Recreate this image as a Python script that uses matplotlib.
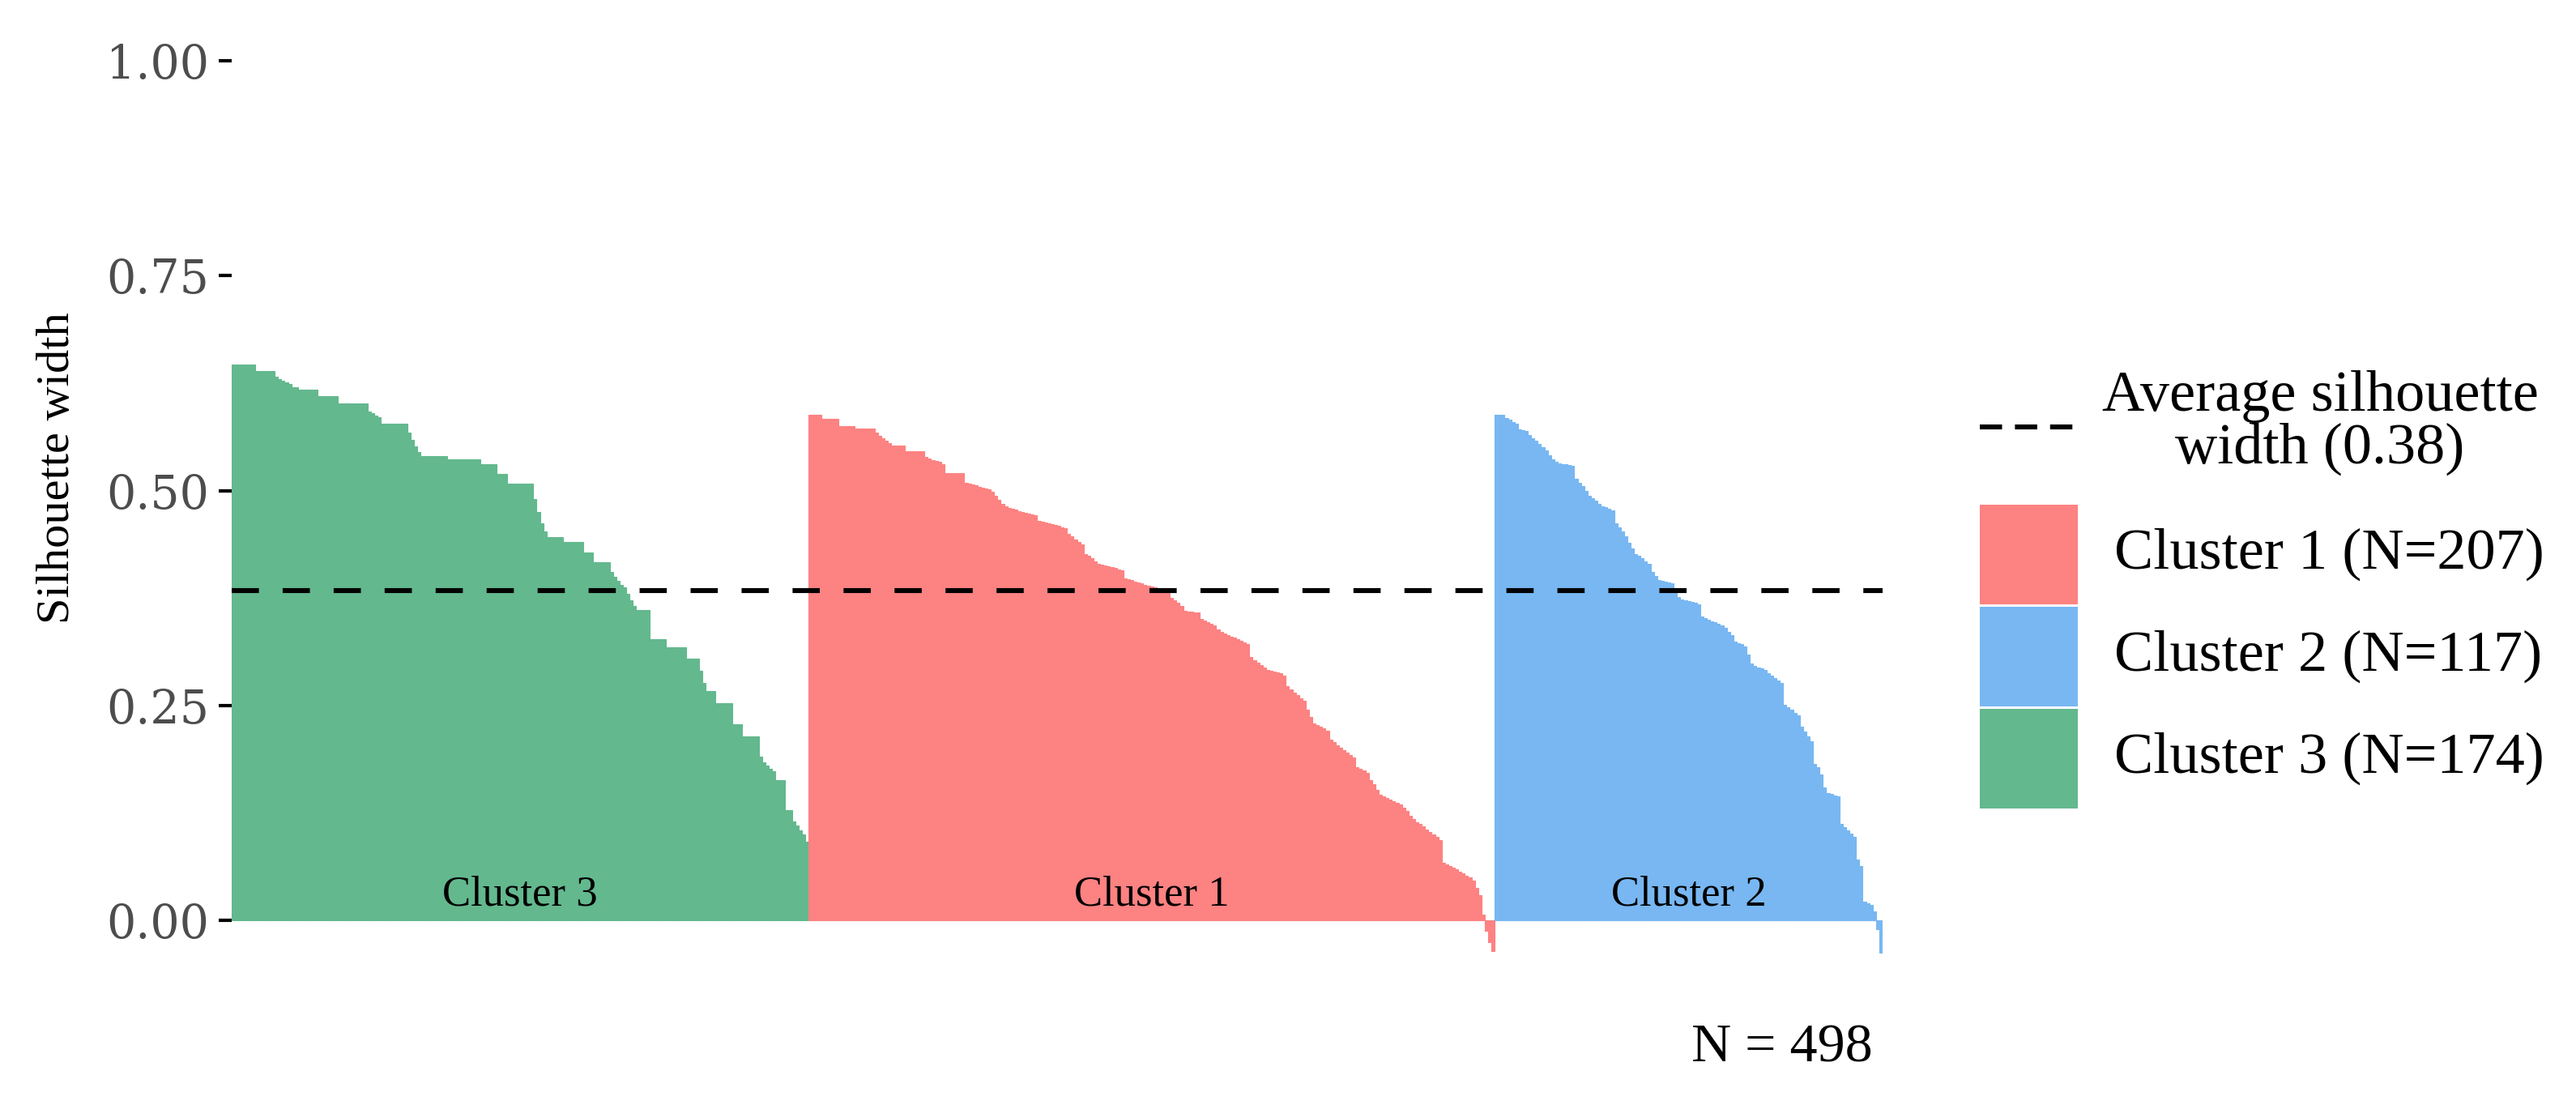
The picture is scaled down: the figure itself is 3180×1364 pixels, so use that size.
import numpy as np
import matplotlib
matplotlib.use("Agg")
import matplotlib.pyplot as plt
from matplotlib.patches import Rectangle

plt.rcParams['font.family'] = ['Liberation Serif', 'DejaVu Serif']

# ---------------- data ----------------
cluster_order = ["Cluster 3", "Cluster 1", "Cluster 2"]
legend_clusters = ["Cluster 1", "Cluster 2", "Cluster 3"]
cluster_sizes = [207, 117, 174]          # for legend_clusters
cluster_colors = {"Cluster 1": "#FD8282", "Cluster 2": "#78B7F2", "Cluster 3": "#63B88E"}
avg_sil = 0.384
avg_label = "0.38"
n_total = 498

# Cluster 3: step levels and number of observations at each level
c3_levels = [0.647, 0.639, 0.632, 0.630, 0.628, 0.626, 0.624, 0.620, 0.617, 0.610,
             0.601, 0.592, 0.590, 0.587, 0.585, 0.578, 0.567, 0.559, 0.551, 0.545,
             0.540, 0.536, 0.531, 0.519, 0.508, 0.490, 0.475, 0.462, 0.452, 0.446,
             0.440, 0.428, 0.417, 0.405, 0.400, 0.395, 0.390, 0.387, 0.380, 0.372,
             0.366, 0.361, 0.327, 0.318, 0.304, 0.290, 0.276, 0.267, 0.253, 0.228,
             0.214, 0.190, 0.184, 0.180, 0.176, 0.173, 0.163, 0.128, 0.115, 0.110,
             0.105, 0.100, 0.091]
c3_counts = [7, 6, 1, 1, 1, 1, 1, 2, 6, 6,
             9, 1, 1, 1, 1, 8, 1, 1, 1, 1,
             8, 10, 5, 3, 8, 1, 1, 1, 1, 5,
             6, 3, 5, 1, 1, 1, 1, 1, 1, 1,
             1, 4, 5, 6, 4, 1, 1, 3, 5, 3,
             5, 1, 1, 1, 1, 1, 3, 2, 1, 1,
             1, 1, 1]

# Cluster 1: step levels and counts
c1_levels = [0.588, 0.583, 0.575, 0.572, 0.567, 0.564, 0.561, 0.558, 0.555, 0.552,
             0.546, 0.539, 0.537, 0.535, 0.534, 0.533, 0.531, 0.520, 0.509, 0.508,
             0.507, 0.506, 0.504, 0.503, 0.502, 0.501, 0.499, 0.494, 0.489, 0.484,
             0.482, 0.480, 0.479, 0.478, 0.476, 0.475, 0.474, 0.473, 0.472, 0.471,
             0.465, 0.464, 0.463, 0.462, 0.461, 0.460, 0.459, 0.457, 0.456, 0.450,
             0.447, 0.443, 0.440, 0.437, 0.426, 0.424, 0.421, 0.418, 0.415, 0.414,
             0.413, 0.412, 0.411, 0.410, 0.408, 0.407, 0.398, 0.397, 0.396, 0.394,
             0.393, 0.392, 0.390, 0.389, 0.388, 0.387, 0.385, 0.384, 0.382, 0.381,
             0.375, 0.372, 0.369, 0.366, 0.360, 0.359, 0.358, 0.351, 0.349, 0.347,
             0.345, 0.343, 0.338, 0.336, 0.334, 0.332, 0.330, 0.329, 0.327, 0.325,
             0.323, 0.321, 0.306, 0.303, 0.300, 0.297, 0.294, 0.291, 0.290, 0.289,
             0.288, 0.287, 0.285, 0.272, 0.269, 0.265, 0.262, 0.258, 0.255, 0.245,
             0.237, 0.229, 0.227, 0.225, 0.223, 0.221, 0.210, 0.207, 0.204, 0.201,
             0.198, 0.195, 0.192, 0.189, 0.178, 0.176, 0.174, 0.172, 0.163, 0.158,
             0.152, 0.146, 0.144, 0.142, 0.140, 0.139, 0.137, 0.135, 0.131, 0.127,
             0.122, 0.118, 0.114, 0.112, 0.109, 0.106, 0.103, 0.100, 0.097, 0.093,
             0.067, 0.065, 0.063, 0.061, 0.059, 0.057, 0.055, 0.052, 0.050, 0.046,
             0.038, 0.029, 0.007, -0.012, -0.025, -0.036]
c1_counts = [4, 5, 5, 6, 1, 1, 1, 1, 1, 4,
             6, 1, 1, 1, 1, 1, 1, 6, 1, 1,
             1, 1, 1, 1, 1, 1, 1, 1, 1, 1,
             1, 1, 1, 1, 1, 1, 1, 1, 1, 1,
             1, 1, 1, 1, 1, 1, 1, 1, 1, 1,
             1, 1, 1, 1, 1, 1, 1, 1, 1, 1,
             1, 1, 1, 1, 1, 1, 1, 1, 1, 1,
             1, 1, 1, 1, 1, 1, 1, 1, 1, 1,
             1, 1, 1, 1, 1, 2, 2, 1, 1, 1,
             1, 1, 1, 1, 1, 1, 1, 1, 1, 1,
             1, 1, 1, 1, 1, 1, 1, 1, 1, 1,
             1, 1, 1, 1, 1, 1, 1, 1, 1, 1,
             1, 1, 1, 1, 1, 1, 1, 1, 1, 1,
             1, 1, 1, 1, 1, 1, 1, 1, 1, 1,
             1, 1, 1, 1, 1, 1, 1, 1, 1, 1,
             1, 1, 1, 1, 1, 1, 1, 1, 1, 1,
             1, 1, 1, 1, 1, 1, 1, 1, 1, 1,
             1, 1, 1, 1, 1, 1]

# Cluster 2: step levels and counts
c2_levels = [0.588, 0.584, 0.582, 0.580, 0.578, 0.571, 0.570, 0.569, 0.565, 0.561,
             0.558, 0.554, 0.550, 0.547, 0.541, 0.536, 0.533, 0.532, 0.531, 0.530,
             0.529, 0.514, 0.509, 0.505, 0.500, 0.494, 0.491, 0.488, 0.484, 0.482,
             0.481, 0.479, 0.477, 0.462, 0.457, 0.452, 0.447, 0.439, 0.433, 0.426,
             0.424, 0.421, 0.418, 0.415, 0.405, 0.401, 0.396, 0.395, 0.394, 0.393,
             0.392, 0.383, 0.376, 0.373, 0.372, 0.371, 0.370, 0.369, 0.368, 0.353,
             0.352, 0.350, 0.348, 0.347, 0.345, 0.343, 0.340, 0.336, 0.332, 0.324,
             0.322, 0.321, 0.319, 0.309, 0.299, 0.296, 0.294, 0.293, 0.291, 0.287,
             0.285, 0.282, 0.279, 0.276, 0.251, 0.248, 0.245, 0.241, 0.238, 0.225,
             0.220, 0.214, 0.208, 0.182, 0.178, 0.170, 0.155, 0.148, 0.147, 0.145,
             0.144, 0.112, 0.108, 0.105, 0.101, 0.097, 0.071, 0.063, 0.022, 0.020,
             0.018, 0.010, -0.010, -0.038]
c2_counts = [3, 1, 1, 1, 1, 1, 1, 1, 1, 1,
             1, 1, 1, 1, 1, 1, 1, 1, 2, 1,
             1, 1, 1, 1, 1, 1, 1, 1, 1, 1,
             1, 1, 1, 1, 1, 1, 1, 1, 1, 1,
             1, 1, 1, 1, 1, 1, 1, 1, 1, 1,
             1, 1, 1, 1, 1, 1, 1, 1, 1, 1,
             1, 1, 1, 1, 1, 1, 1, 1, 1, 1,
             1, 1, 1, 1, 1, 1, 1, 1, 1, 1,
             1, 1, 1, 1, 1, 1, 1, 1, 1, 1,
             1, 1, 1, 1, 1, 1, 1, 1, 1, 1,
             1, 1, 1, 1, 1, 1, 1, 1, 1, 1,
             1, 1, 1, 1]

y_ticks = [0.00, 0.25, 0.50, 0.75, 1.00]
y_ticklabels = ["0.00", "0.25", "0.50", "0.75", "1.00"]

# ---------------- build series ----------------
series = {
    "Cluster 3": np.repeat(c3_levels, c3_counts),
    "Cluster 1": np.repeat(c1_levels, c1_counts),
    "Cluster 2": np.repeat(c2_levels, c2_counts),
}
values = np.concatenate([series[c] for c in cluster_order])
bar_colors = sum([[cluster_colors[c]] * len(series[c]) for c in cluster_order], [])
xpos = np.arange(len(values))

# ---------------- layout (pixels) ----------------
W, H, DPI = 3180, 1364, 200
fig = plt.figure(figsize=(W / DPI, H / DPI), dpi=DPI)
fig.patch.set_facecolor("white")

x_left_px, x_right_px = 286, 2324
y0_px, y1_px = 1136, 75            # pixel rows of value 0 and value 1
ylo, yhi = -0.06, 1.03
ypx = lambda v: y0_px - (y0_px - y1_px) * v
bot_px, top_px = ypx(ylo), ypx(yhi)
ax = fig.add_axes([x_left_px / W, 1 - bot_px / H,
                   (x_right_px - x_left_px) / W, (bot_px - top_px) / H])

ax.bar(xpos, values, width=1.0, color=bar_colors, edgecolor=bar_colors,
       linewidth=0.4, align="center")
ax.set_xlim(-0.5, len(values) - 0.5)
ax.set_ylim(ylo, yhi)
ax.axhline(avg_sil, color="black", lw=2.2, linestyle=(0, (5.5, 4.8)), zorder=3)

for s in ax.spines.values():
    s.set_visible(False)
ax.set_xticks([])
ax.set_yticks(y_ticks)
ax.set_yticklabels(y_ticklabels)
ax.tick_params(axis="y", length=5.8, width=1.5, color="black", pad=4.3,
               labelsize=20.5, labelcolor="#4D4D4D")
for lbl in ax.get_yticklabels():
    lbl.set_fontfamily("DejaVu Serif")

# cluster labels inside bars
start = 0
for c in cluster_order:
    n = len(series[c])
    ax.text(start + (n - 1) / 2, 0.03, c, ha="center", va="center",
            fontsize=19, color="black")
    start += n

# ---------------- overlay for legend & free texts ----------------
ov = fig.add_axes([0, 0, 1, 1])
ov.set_xlim(0, W)
ov.set_ylim(H, 0)
ov.axis("off")
ov.patch.set_alpha(0)

ov.text(71, 578, "Silhouette width", rotation=90, ha="center", va="center",
        fontsize=21, color="black")
ov.text(2312, 1294, f"N = {n_total}", ha="right", va="center", fontsize=24.5,
        color="black")

# legend
ov.plot([2444, 2560], [527, 527], color="black", lw=2.2,
        linestyle=(0, (4.5, 2.6)), solid_capstyle="butt", dash_capstyle="butt")
ov.text(2864, 522, f"Average silhouette\nwidth ({avg_label})", ha="center",
        va="center", fontsize=26, linespacing=1.0)
box_tops = [623, 749, 875]
box_h = 123
for c, n, top in zip(legend_clusters, cluster_sizes, box_tops):
    ov.add_patch(Rectangle((2444, top), 121, box_h, facecolor=cluster_colors[c],
                           edgecolor="none"))
    ov.text(2610, top + box_h / 2, f"{c} (N={n})", ha="left", va="center",
            fontsize=26)

fig.savefig("out.png", dpi=DPI, facecolor="white")
